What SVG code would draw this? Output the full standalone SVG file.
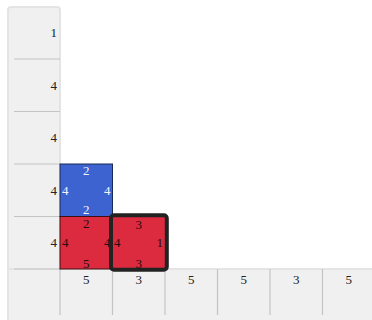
<svg xmlns="http://www.w3.org/2000/svg" width="372" height="320" viewBox="0 0 372 320">
<style>
.panel{fill:#f0f0f0;stroke:#e4e4e4;stroke-width:2}
.grid{stroke:#c4c4c4;stroke-width:1.2;fill:none}
text{font-family:"Liberation Serif","Times New Roman",serif;font-size:13px;fill:#222}
.r{text-anchor:end}
.m{text-anchor:middle}
.w{fill:#f2f4ff}
.k{fill:#2a0a0e}
</style>
<rect width="372" height="320" fill="#ffffff"/>
<g id="left-panel">
<path class="panel" d="M8 322 V10 a3 3 0 0 1 3 -3 H57 a3 3 0 0 1 3 3 V322"/>
</g>
<g id="bottom-panel">
<rect class="panel" x="8" y="269" width="370" height="60"/>
</g>
<g id="grid">
<line class="grid" x1="14" y1="59" x2="60" y2="59"/>
<line class="grid" x1="14" y1="111.5" x2="60" y2="111.5"/>
<line class="grid" x1="14" y1="164" x2="60" y2="164"/>
<line class="grid" x1="14" y1="216.5" x2="60" y2="216.5"/>
<line class="grid" x1="14" y1="269" x2="60" y2="269"/>
<line class="grid" x1="60" y1="269" x2="60" y2="315"/>
<line class="grid" x1="112.5" y1="269" x2="112.5" y2="315"/>
<line class="grid" x1="165" y1="269" x2="165" y2="315"/>
<line class="grid" x1="217.5" y1="269" x2="217.5" y2="315"/>
<line class="grid" x1="270" y1="269" x2="270" y2="315"/>
<line class="grid" x1="322.5" y1="269" x2="322.5" y2="315"/>
</g>
<g id="row-labels">
<text class="r" x="57" y="36.5">1</text>
<text class="r" x="57" y="89.5">4</text>
<text class="r" x="57" y="142">4</text>
<text class="r" x="57" y="195">4</text>
<text class="r" x="57" y="247">4</text>
</g>
<g id="col-labels">
<text class="m" x="86.3" y="283.5">5</text>
<text class="m" x="138.8" y="283.5">3</text>
<text class="m" x="191.3" y="283.5">5</text>
<text class="m" x="243.8" y="283.5">5</text>
<text class="m" x="296.3" y="283.5">3</text>
<text class="m" x="348.8" y="283.5">5</text>
</g>
<g id="tile-blue">
<rect x="60" y="164" width="52.5" height="52.5" fill="#3c63d0" stroke="#1a2a55" stroke-width="1"/>
<text class="m w" x="86.3" y="174.5">2</text>
<text class="w" x="62" y="194.5">4</text>
<text class="r w" x="110.5" y="194.5">4</text>
<text class="m w" x="86.3" y="213.5">2</text>
</g>
<g id="tile-red-1">
<rect x="60" y="216.5" width="52.5" height="52.5" fill="#dc2b3e" stroke="#3a1015" stroke-width="1"/>
<text class="m k" x="86.3" y="228">2</text>
<text class="k" x="62" y="247">4</text>
<text class="r k" x="110.5" y="247">4</text>
<text class="m k" x="86.3" y="267.5">5</text>
</g>
<g id="tile-red-2">
<rect x="111" y="215.3" width="55.8" height="54.4" rx="3" fill="#dc2b3e" stroke="#222222" stroke-width="4"/>
<text class="m k" x="138.8" y="228.5">3</text>
<text class="k" x="114" y="247">4</text>
<text class="r k" x="163" y="247">1</text>
<text class="m k" x="138.8" y="267.5">3</text>
</g>
</svg>
